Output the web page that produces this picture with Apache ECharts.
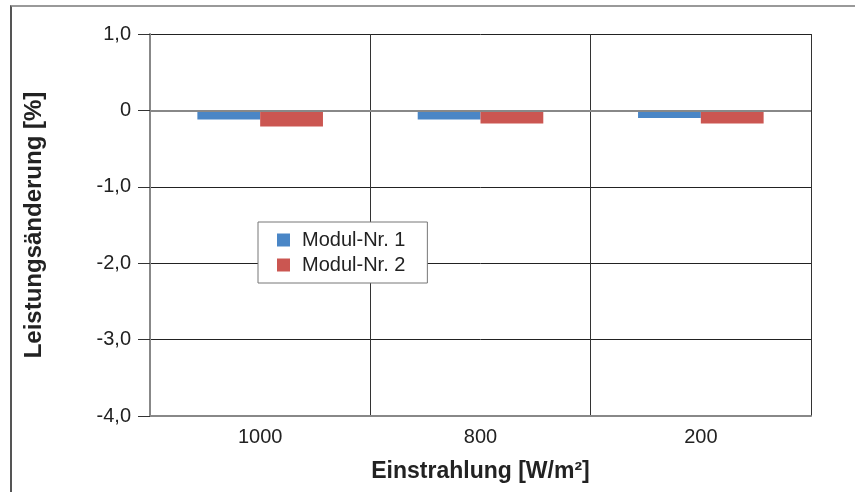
<!DOCTYPE html>
<html><head><meta charset="utf-8">
<script src="https://cdn.jsdelivr.net/npm/echarts@6/dist/echarts.min.js"></script>
<style>
html,body{margin:0;padding:0;background:#fff;}
#frame{position:absolute;left:10px;top:5px;width:845px;height:487px;border-left:2px solid #555;border-top:2px solid #999;box-sizing:border-box;}
#c{position:absolute;left:0;top:0;width:855px;height:492px;}
</style></head>
<body>
<div id="frame"></div>
<div id="c"></div>
<script>
const categories = ['1000', '800', '200'];
const modul1 = [-0.12, -0.12, -0.10];
const modul2 = [-0.21, -0.17, -0.17];
const yTicks = [1, 0, -1, -2, -3, -4];

const chart = echarts.init(document.getElementById('c'));
const font = 'Helvetica, Arial, "Liberation Sans", sans-serif';
chart.setOption({
  animation: false,
  grid: {left: 150, right: 44, top: 34, bottom: 76, containLabel: false},
  legend: {
    left: 258, top: 222,
    orient: 'vertical', itemGap: 5, padding: [8, 22, 8, 19],
    backgroundColor: '#fff', borderColor: '#777', borderWidth: 1,
    itemWidth: 13, itemHeight: 13, icon: 'rect',
    textStyle: {fontSize: 20, color: '#222', fontFamily: font, padding: [0, 0, 0, 7]},
    data: ['Modul-Nr. 1', 'Modul-Nr. 2']
  },
  xAxis: {
    type: 'category', data: categories,
    name: 'Einstrahlung [W/m²]', nameLocation: 'middle', nameGap: 44,
    nameTextStyle: {fontSize: 23, fontWeight: 'bold', color: '#222', fontFamily: font},
    axisLine: {onZero: false, lineStyle: {color: '#888', width: 2}},
    axisTick: {show: false},
    axisLabel: {fontSize: 20, color: '#222', margin: 11, fontFamily: font},
    splitLine: {show: true, lineStyle: {color: '#333', width: 1}}
  },
  yAxis: {
    type: 'value', min: -4, max: 1, interval: 1,
    name: 'Leistungsänderung [%]', nameLocation: 'middle', nameGap: 104,
    nameTextStyle: {fontSize: 24, fontWeight: 'bold', color: '#222', fontFamily: font},
    axisLine: {show: true, lineStyle: {color: '#888', width: 2}},
    axisTick: {show: true, length: 12, lineStyle: {color: '#333'}},
    axisLabel: {fontSize: 20, color: '#222', margin: 19, fontFamily: font,
      formatter: v => v === 0 ? '0' : v.toFixed(1).replace('.', ',')},
    splitLine: {show: true, lineStyle: {color: '#222', width: 1}}
  },
  series: [
    {name: 'Modul-Nr. 1', type: 'bar', data: modul1, barGap: 0, barCategoryGap: '43%',
     itemStyle: {color: '#4a86c6'},
     markLine: {silent: true, symbol: 'none', label: {show: false},
       lineStyle: {color: '#888', width: 2, type: 'solid'}, data: [{yAxis: 0}]}},
    {name: 'Modul-Nr. 2', type: 'bar', data: modul2, barGap: 0, barCategoryGap: '43%',
     itemStyle: {color: '#cb5651'}}
  ]
});
</script>
</body></html>
